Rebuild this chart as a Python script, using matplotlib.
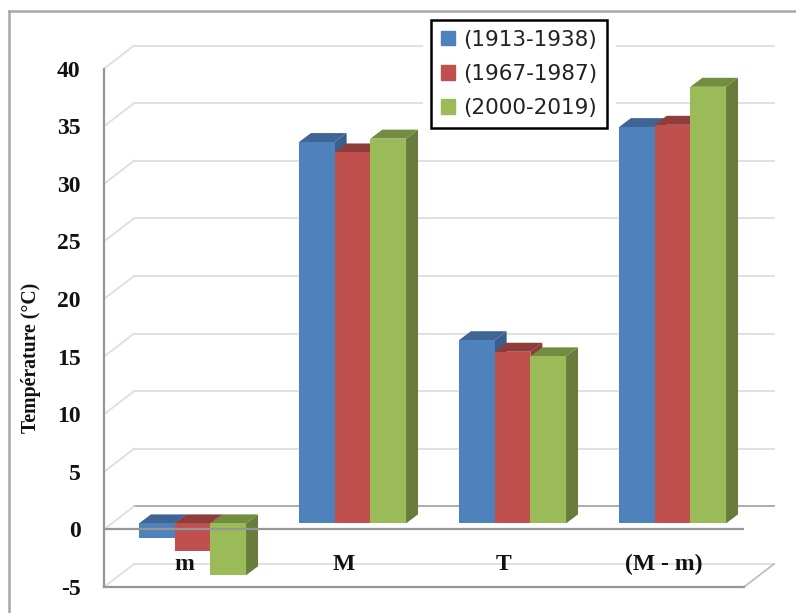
import numpy as np
import matplotlib
matplotlib.use("Agg")
import matplotlib.pyplot as plt
from matplotlib.lines import Line2D
from matplotlib.patches import Patch
import matplotlib.patheffects as pe

categories = ["m", "M", "T", "(M - m)"]
periods = ["(1913-1938)", "(1967-1987)", "(2000-2019)"]
v1913 = [-1.3, 33.1, 15.9, 34.4]
v1967 = [-2.4, 32.2, 14.9, 34.6]
v2000 = [-4.5, 33.4, 14.5, 37.9]
yticks = [-5, 0, 5, 10, 15, 20, 25, 30, 35, 40]

front = ["#4F81BD", "#C0504D", "#9BBB59"]
top = ["#3E6595", "#8E3D3A", "#728C40"]
side = ["#3A5F8C", "#8C3A38", "#687D3C"]

W, H = 796, 613
pxX = 160.0   # pixels per category
pxY = 11.52   # pixels per degree

# wall depth, bar depth and shift of the bar plane, in data units
wallX, wallY = 30 / pxX, 23 / pxY
depX, depY = 12 / pxX, 9 / pxY
shiftX, shiftY = 8.5 / pxX, 6 / pxY
barW = 35.7 / pxX

fig = plt.figure(figsize=(W / 100, H / 100), dpi=100)
ax = fig.add_axes([104 / W, (H - 587) / H, 640 / W, 518.4 / H])
ax.set_xlim(-0.5, 3.5)
ax.set_ylim(-5, 40)

# outer chart border, only left and top are inside the picture
fig.add_artist(Line2D([9 / W, 9 / W], [0, 1 - 10.5 / H], color="#A6A6A6", lw=1.8))
fig.add_artist(Line2D([9 / W, 1], [1 - 10.5 / H, 1 - 10.5 / H], color="#A6A6A6", lw=1.8))

# walls
x0, x1 = -0.5, 3.5
for v in yticks:
	col = "#A6A6A6" if v == 0 else "#DEDEDE"
	ax.plot([x0 + wallX, x1 + wallX], [v + wallY, v + wallY], color=col, lw=1.3, zorder=1, clip_on=False)
	ax.plot([x0, x0 + wallX], [v, v + wallY], color="#DEDEDE", lw=1.3, zorder=1, clip_on=False)
ax.plot([x1, x1 + wallX], [-5, -5 + wallY], color="#BFBFBF", lw=1.3, zorder=1, clip_on=False)

# bars
series = [v1913, v1967, v2000]
for j, vals in enumerate(series):
	for i, v in enumerate(vals):
		left = i + shiftX + (j - 1.5) * barW
		right = left + barW
		low = shiftY + min(v, 0)
		high = shiftY + max(v, 0)
		z = 3 + j
		ax.fill([right, right + depX, right + depX, right],
				[low, low + depY, high + depY, high], color=side[j], lw=0, zorder=z, clip_on=False)
		ax.fill([left, left + depX, right + depX, right],
				[high, high + depY, high + depY, high], color=top[j], lw=0, zorder=z, clip_on=False)
	ax.bar(np.arange(4) + shiftX + (j - 1) * barW, vals, width=barW, bottom=shiftY,
			color=front[j], zorder=3 + j + 0.5, clip_on=False)

ax.axhline(0, color="#969696", lw=1.6, zorder=8)

for s in ["top", "right"]:
	ax.spines[s].set_visible(False)
for s in ["left", "bottom"]:
	ax.spines[s].set_color("#969696")
	ax.spines[s].set_linewidth(1.6)

tickFont = {"family": "Liberation Serif", "weight": "bold", "size": 17, "color": "#111111"}
ax.set_yticks(yticks)
ax.set_yticklabels([str(t) for t in yticks], **tickFont)
ax.tick_params(axis="y", length=0, pad=17)
ax.set_xticks(range(4))
ax.set_xticklabels(categories, **tickFont)
ax.tick_params(axis="x", length=0, pad=-24)
for lab in ax.get_xticklabels():
	lab.set_zorder(10)
ax.set_ylabel("Température (°C)", family="Liberation Serif", weight="bold", size=14.2, color="#111111")
ax.yaxis.set_label_coords((41 - 104) / 640, 0.442)

handles = [Patch(color=c) for c in front]
leg = ax.legend(handles, periods, loc="center", bbox_to_anchor=(519 / W, 1 - 74 / H),
		bbox_transform=fig.transFigure, fancybox=False, framealpha=1, edgecolor="black",
		prop={"family": "DejaVu Sans", "size": 15.5}, labelcolor="#222222",
		handlelength=0.66, handleheight=0.66, handletextpad=0.35, labelspacing=0.66,
		borderpad=0.45, borderaxespad=0)
leg.set_zorder(20)
leg.get_frame().set_linewidth(1.8)
leg.get_frame().set_path_effects([pe.withStroke(linewidth=12, foreground="white")])

fig.savefig("out.png", dpi=100)
